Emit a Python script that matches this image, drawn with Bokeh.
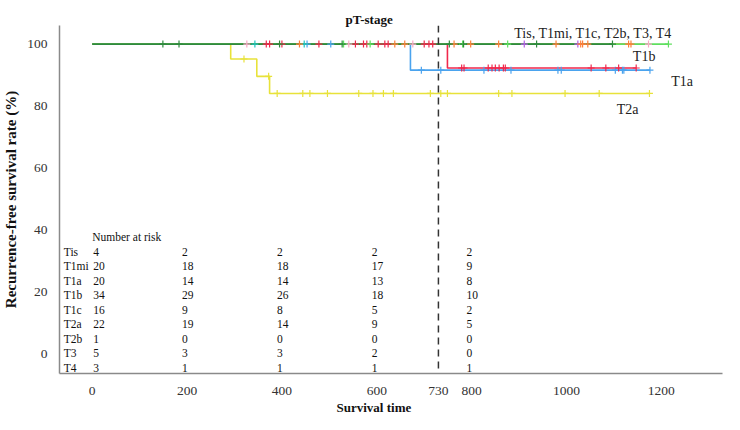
from bokeh.plotting import figure
from bokeh.models import Span, FixedTicker, Title
from bokeh.core.properties import value
from bokeh.embed import file_html
from bokeh.resources import INLINE

# ---------------- data ----------------
groups = ["Tis", "T1mi", "T1a", "T1b", "T1c", "T2a", "T2b", "T3", "T4"]

# event times and survival (%) after each event
events = {
    "Tis": [], "T1mi": [], "T1a": [671], "T1b": [749], "T1c": [],
    "T2a": [292, 347, 374], "T2b": [], "T3": [], "T4": [],
}
surv_after = {
    "Tis": [], "T1mi": [], "T1a": [91.6], "T1b": [92.3], "T1c": [],
    "T2a": [95.2, 89.6, 84.1], "T2b": [], "T3": [], "T4": [],
}
# censored times
censors = {
    "Tis": [326, 541, 676, 1173],
    "T1mi": [437, 638, 659, 763, 798, 857, 978, 1030, 1034, 1045, 1131, 1136],
    "T1a": [453, 503, 694, 735, 826, 883, 982, 989, 1103, 1118, 1121, 1176],
    "T1b": [367, 374, 400, 478, 555, 572, 579, 603, 617, 624, 700, 710, 718,
            779, 784, 835, 843, 850, 858, 867, 871, 1052, 1083, 1110, 1147],
    "T1c": [149, 183, 395, 527, 753, 783, 937, 1097],
    "T2a": [320, 372, 390, 444, 459, 496, 562, 592, 614, 635, 713, 735, 749,
            857, 885, 997, 1069, 1175],
    "T2b": [911, 1024],
    "T3": [343, 447],
    "T4": [530, 586, 781, 876, 1215],
}
colors = {
    "Tis": "#f9a8c6", "T1mi": "#ff7f3a", "T1a": "#4aa3ee", "T1b": "#f0284c",
    "T1c": "#2f8a3e", "T2a": "#e8e23a", "T2b": "#b35ee6", "T3": "#20c4bc",
    "T4": "#5fdf5f",
}
draw_order = ["T2a", "T1a", "T1b", "Tis", "T3", "T2b", "T1mi", "T4", "T1c"]

risk_times = [0, 200, 400, 600, 800]
at_risk = {
    "Tis": [4, 2, 2, 2, 2],
    "T1mi": [20, 18, 18, 17, 9],
    "T1a": [20, 14, 14, 13, 8],
    "T1b": [34, 29, 26, 18, 10],
    "T1c": [16, 9, 8, 5, 2],
    "T2a": [22, 19, 14, 9, 5],
    "T2b": [1, 0, 0, 0, 0],
    "T3": [5, 3, 3, 2, 0],
    "T4": [3, 1, 1, 1, 1],
}
x_ticks = [0, 200, 400, 600, 730, 800, 1000, 1200]
y_ticks = [0, 20, 40, 60, 80, 100]
cutoff = 730

curve_labels = ["Tis, T1mi, T1c, T2b, T3, T4", "T1b", "T1a", "T2a"]
curve_label_x = [890, 1140, 1221, 1106]
curve_label_y = [103.5, 95.9, 87.9, 79.0]

FONT = "Liberation Serif"

# ---------------- figure ----------------
p = figure(width=724, height=414, x_range=(-69, 1329), y_range=(-6.2, 106),
           output_backend="svg", toolbar_location=None,
           min_border_left=51, min_border_right=2, min_border_top=25,
           min_border_bottom=20)
p.outline_line_color = None
p.grid.grid_line_color = None
p.background_fill_color = "white"

p.title.text = "pT-stage"
p.title.align = "left"
p.title.offset = 286
p.title.standoff = -3
p.title.text_font = FONT
p.title.text_font_size = "13px"
p.title.text_font_style = "bold"
p.title.text_color = "#111111"


def step_fn(g):
    ts, ss = events[g], surv_after[g]
    def s_at(t):
        s = 100.0
        for te, se in zip(ts, ss):
            if t >= te:
                s = se
        return s
    return s_at


for g in draw_order:
    xs, ys = [0], [100.0]
    prev = 100.0
    for te, se in zip(events[g], surv_after[g]):
        xs += [te, te]
        ys += [prev, se]
        prev = se
    end = max(censors[g])
    xs.append(end)
    ys.append(prev)
    p.line(xs, ys, line_color=colors[g], line_width=1.6)

for g in draw_order:
    s_at = step_fn(g)
    cx = censors[g]
    cy = [s_at(t) for t in cx]
    p.scatter(cx, cy, marker="cross", size=7, line_color=colors[g], line_width=1.2)

p.add_layout(Span(location=cutoff, dimension="height", line_color="#333333",
                  line_width=1.5, line_dash="7 5"))

# curve labels
p.text(x=curve_label_x, y=curve_label_y, text=curve_labels,
       text_font=value(FONT), text_font_size="14px", text_color="#222222",
       text_baseline="middle", text_align="left")

# number at risk table
table_y = 33.0
TS = "11.5px"
ROW = 14.5
p.text(x=[risk_times[0]], y=[table_y], text=["Number at risk"], y_offset=-ROW,
       text_font=value(FONT), text_font_size=TS, text_color="#111111",
       text_baseline="middle", text_align="left")
for i, g in enumerate(groups):
    p.text(x=[-60], y=[table_y], text=[g], y_offset=i * ROW,
           text_font=value(FONT), text_font_size=TS, text_color="#111111",
           text_baseline="middle", text_align="left")
    p.text(x=risk_times[:1], y=[table_y], text=[str(at_risk[g][0])],
           y_offset=i * ROW, x_offset=1,
           text_font=value(FONT), text_font_size=TS, text_color="#111111",
           text_baseline="middle", text_align="left")
    p.text(x=risk_times[1:], y=[table_y] * (len(risk_times) - 1),
           text=[str(v) for v in at_risk[g][1:]], y_offset=i * ROW, x_offset=-5,
           text_font=value(FONT), text_font_size=TS, text_color="#111111",
           text_baseline="middle", text_align="left")

# axes
for ax in (p.xaxis[0], p.yaxis[0]):
    ax.axis_line_color = "#8a8a8a"
    ax.axis_line_width = 1.5
    ax.major_tick_line_color = None
    ax.minor_tick_line_color = None
    ax.major_label_text_font = FONT
    ax.major_label_text_font_size = "13.5px"
    ax.major_label_text_color = "#333333"
    ax.axis_label_text_font = FONT
    ax.axis_label_text_font_style = "bold"
    ax.axis_label_text_font_size = "13px"
    ax.axis_label_text_color = "#111111"

p.xaxis.ticker = FixedTicker(ticks=x_ticks)
p.yaxis.ticker = FixedTicker(ticks=y_ticks)
p.xaxis.major_label_standoff = 7
p.yaxis.major_label_standoff = 6
p.yaxis.axis_label = "Recurrence-free survival rate (%)"
p.yaxis.axis_label_standoff = 5
p.yaxis.axis_label_text_font_size = "15px"

xlab = Title(text="Survival time", align="left", offset=277, standoff=0,
             text_font=FONT, text_font_size="13px", text_font_style="bold",
             text_color="#111111")
p.add_layout(xlab, "below")

open("out.html", "w").write(file_html(p, INLINE))
